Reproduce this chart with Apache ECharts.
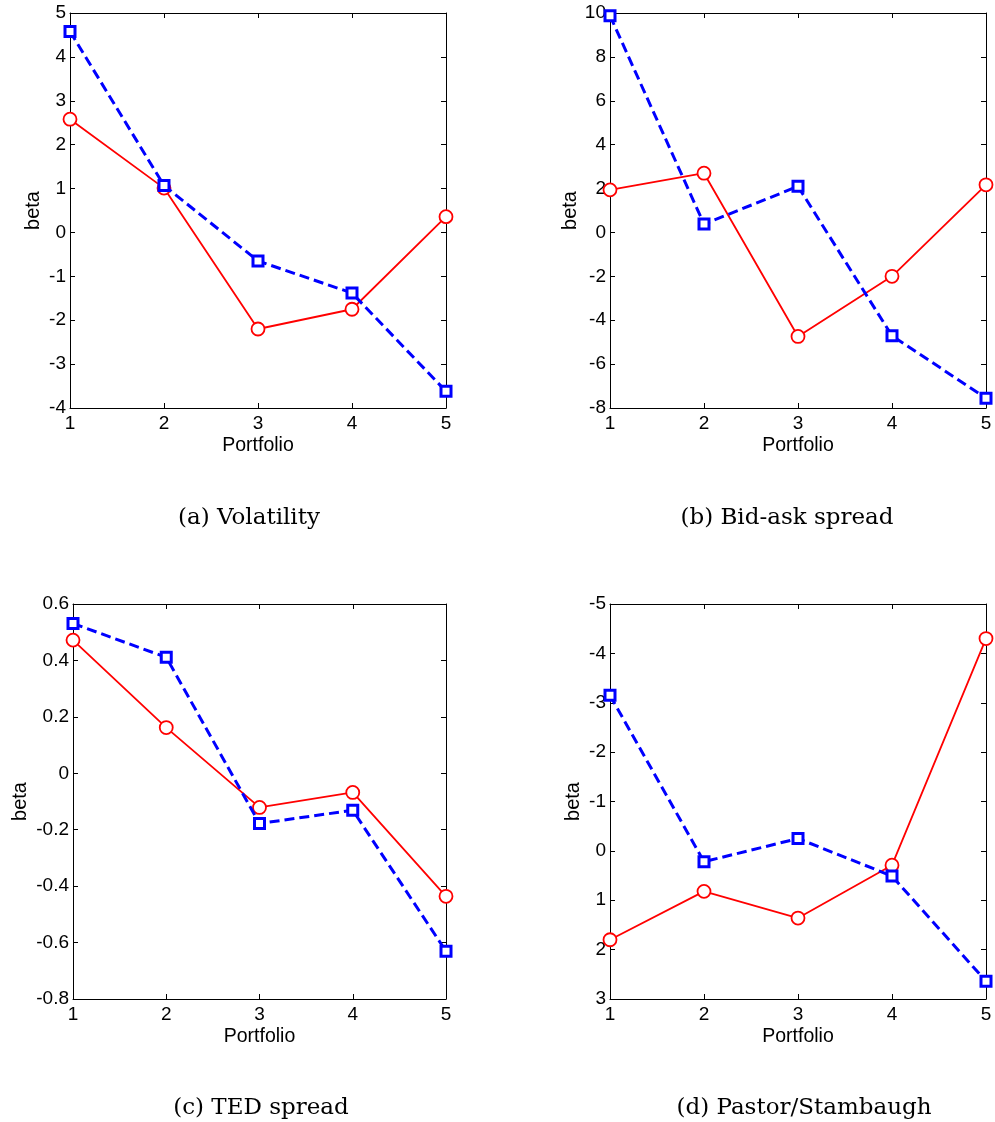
<!DOCTYPE html>
<html>
<head>
<meta charset="utf-8">
<script src="https://cdn.jsdelivr.net/npm/echarts@6/dist/echarts.min.js"></script>
<style>
  html, body { margin: 0; padding: 0; background: #fff; }
  #main { width: 995px; height: 1122px; }
</style>
</head>
<body>
<div id="main"></div>
<script>
var chart = echarts.init(document.getElementById('main'));

// data
var portfolios = [1, 2, 3, 4, 5];
var volRed = [2.58, 1.01, -2.20, -1.75, 0.36];
var volBlue = [4.58, 1.07, -0.65, -1.38, -3.62];
var bidAskRed = [1.94, 2.70, -4.74, -2.00, 2.17];
var bidAskBlue = [9.88, 0.38, 2.10, -4.71, -7.55];
var tedRed = [0.472, 0.162, -0.121, -0.068, -0.436];
var tedBlue = [0.531, 0.411, -0.178, -0.131, -0.631];
var psRed = [1.80, 0.82, 1.36, 0.29, -4.30];
var psBlue = [-3.15, 0.22, -0.25, 0.51, 2.64];

var captions = ['(a) Volatility', '(b) Bid-ask spread', '(c) TED spread', '(d) Pastor/Stambaugh'];
var yRanges = [[-4, 5, 1], [-8, 10, 2], [-0.8, 0.6, 0.2], [-5, 3, 1]];
var reds = [volRed, bidAskRed, tedRed, psRed];
var blues = [volBlue, bidAskBlue, tedBlue, psBlue];

var grids = [
  {left: 70, top: 13, width: 376, height: 395},
  {left: 610, top: 13, width: 376, height: 395},
  {left: 73, top: 604, width: 373, height: 395},
  {left: 610, top: 604, width: 376, height: 395}
];
var captionPos = [[244, 502], [782, 502], [256, 1092], [799, 1092]];
var yNameGap = [27, 27, 43, 27];

function pts(arr) {
  return portfolios.map(function (p, i) { return [p, arr[i]]; });
}

var font = 'Liberation Sans, Arial, sans-serif';
var xAxes = [], yAxes = [], series = [], titles = [];
var line = {onZero: false, lineStyle: {color: '#000', width: 1}};
var tick = {inside: true, length: 5, lineStyle: {color: '#000'}};

for (var g = 0; g < 4; g++) {
  var inv = g === 3;
  var r = yRanges[g];
  xAxes.push({
    type: 'value', gridIndex: g, min: 1, max: 5, interval: 1, position: 'bottom',
    name: 'Portfolio', nameLocation: 'middle', nameGap: 28,
    nameTextStyle: {color: '#000', fontSize: 19.5, fontFamily: font},
    axisLine: line, axisTick: tick,
    axisLabel: {color: '#000', fontSize: 19, fontFamily: font, margin: 6},
    splitLine: {show: false}
  });
  xAxes.push({
    type: 'value', gridIndex: g, min: 1, max: 5, interval: 1, position: 'top',
    axisLine: line, axisTick: tick,
    axisLabel: {show: false},
    splitLine: {show: false}
  });
  yAxes.push({
    type: 'value', gridIndex: g, min: r[0], max: r[1], interval: r[2], inverse: inv,
    position: 'left',
    name: 'beta', nameLocation: 'middle', nameGap: yNameGap[g],
    nameTextStyle: {color: '#000', fontSize: 20, fontFamily: font},
    axisLine: {show: true, onZero: false, lineStyle: {color: '#000', width: 1}},
    axisTick: {show: true, inside: true, length: 5, lineStyle: {color: '#000'}},
    axisLabel: {color: '#000', fontSize: 19, fontFamily: font, margin: 4},
    splitLine: {show: false}
  });
  yAxes.push({
    type: 'value', gridIndex: g, min: r[0], max: r[1], interval: r[2], inverse: inv,
    position: 'right',
    axisLine: {show: true, onZero: false, lineStyle: {color: '#000', width: 1}},
    axisTick: {show: true, inside: true, length: 5, lineStyle: {color: '#000'}},
    axisLabel: {show: false},
    splitLine: {show: false}
  });
  series.push({
    type: 'line', xAxisIndex: g * 2, yAxisIndex: g * 2, data: pts(reds[g]),
    symbol: 'circle', symbolSize: 13, showAllSymbol: true,
    lineStyle: {color: '#ff0000', width: 1.8},
    itemStyle: {color: '#fff', borderColor: '#ff0000', borderWidth: 1.8},
    animation: false, z: 2
  });
  series.push({
    type: 'line', xAxisIndex: g * 2, yAxisIndex: g * 2, data: pts(blues[g]),
    symbol: 'rect', symbolSize: 10, showAllSymbol: true,
    lineStyle: {color: '#0000ff', width: 3, type: [10, 5]},
    itemStyle: {color: '#fff', borderColor: '#0000ff', borderWidth: 3},
    animation: false, z: 3
  });
  titles.push({
    text: captions[g], left: captionPos[g][0], top: captionPos[g][1], textAlign: 'center',
    textStyle: {color: '#000', fontSize: 23, fontWeight: 'normal', fontFamily: 'DejaVu Serif, serif'}
  });
}

var option = {
  backgroundColor: '#fff',
  animation: false,
  title: titles,
  grid: grids,
  xAxis: xAxes,
  yAxis: yAxes,
  series: series
};

chart.setOption(option);
window.onresize = chart.resize;
</script>
</body>
</html>
